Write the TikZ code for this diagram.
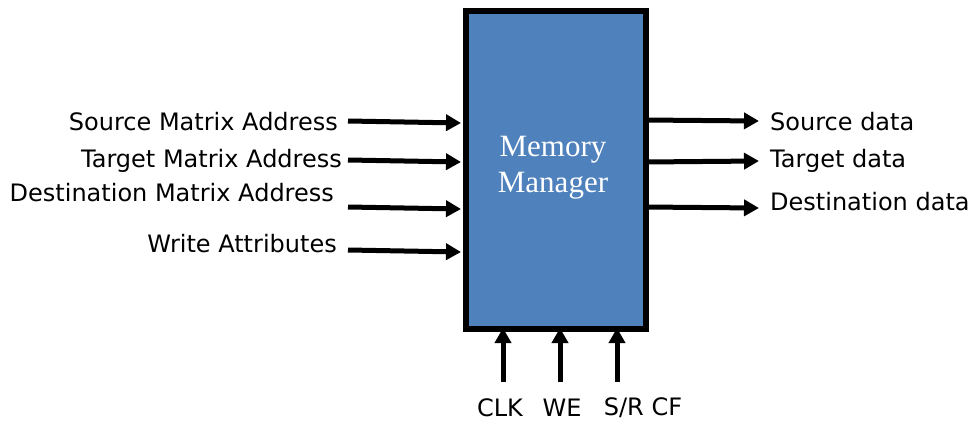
\documentclass[tikz,border=0pt]{standalone}
\usepackage{fontspec}
\setmainfont{DejaVu Sans}
\newfontfamily\serifbox{Liberation Serif}
\usetikzlibrary{arrows.meta}
\begin{document}
\begin{tikzpicture}[x=1pt,y=-1pt,
  sig/.style={line width=5pt,-{Triangle[length=15pt,width=16pt]}},
  lbl/.style={font=\fontsize{24}{27}\selectfont,inner sep=0pt}]
\useasboundingbox (0,0) rectangle (970,421);
\node[draw=black,line width=6pt,fill={rgb,255:red,79;green,129;blue,189},minimum width=180pt,minimum height=318pt,inner sep=0pt,anchor=north west] (mm) at (463,8) {};
\node[text=white,font=\serifbox\fontsize{31}{36}\selectfont,align=center] (mmt) at (553,168) {Memory\\Manager};
% left inputs
\coordinate (a1s) at (348,121); \coordinate (a1e) at (461,123);
\coordinate (a2s) at (348,160); \coordinate (a2e) at (461,162);
\coordinate (a3s) at (348,207); \coordinate (a3e) at (461,209);
\coordinate (a4s) at (348,250); \coordinate (a4e) at (461,252);
\draw[sig] (a1s) -- (a1e);
\draw[sig] (a2s) -- (a2e);
\draw[sig] (a3s) -- (a3e);
\draw[sig] (a4s) -- (a4e);
\node[lbl,anchor=east] (l1) at (338,122) {Source Matrix Address};
\node[lbl,anchor=east] (l2) at (342,161) {Target Matrix Address};
\node[lbl,anchor=east] (l3) at (334,193) {Destination Matrix Address};
\node[lbl,anchor=east] (l4) at (337,244) {Write Attributes};
% right outputs
\coordinate (b1s) at (645,120); \coordinate (b1e) at (759,121);
\coordinate (b2s) at (645,162); \coordinate (b2e) at (759,161);
\coordinate (b3s) at (645,207); \coordinate (b3e) at (759,208);
\draw[sig] (b1s) -- (b1e);
\draw[sig] (b2s) -- (b2e);
\draw[sig] (b3s) -- (b3e);
\node[lbl,anchor=west] (r1) at (770,122) {Source data};
\node[lbl,anchor=west] (r2) at (770,161) {Target data};
\node[lbl,anchor=west] (r3) at (770,202) {Destination data};
% bottom inputs
\coordinate (c1s) at (503,382); \coordinate (c1e) at (503,328);
\coordinate (c2s) at (560,382); \coordinate (c2e) at (560,328);
\coordinate (c3s) at (617,382); \coordinate (c3e) at (617,328);
\draw[sig] (c1s) -- (c1e);
\draw[sig] (c2s) -- (c2e);
\draw[sig] (c3s) -- (c3e);
\node[lbl] (d1) at (500,408) {CLK};
\node[lbl] (d2) at (562,408) {WE};
\node[lbl] (d3) at (643,408) {S/R CF};
\end{tikzpicture}
\end{document}
